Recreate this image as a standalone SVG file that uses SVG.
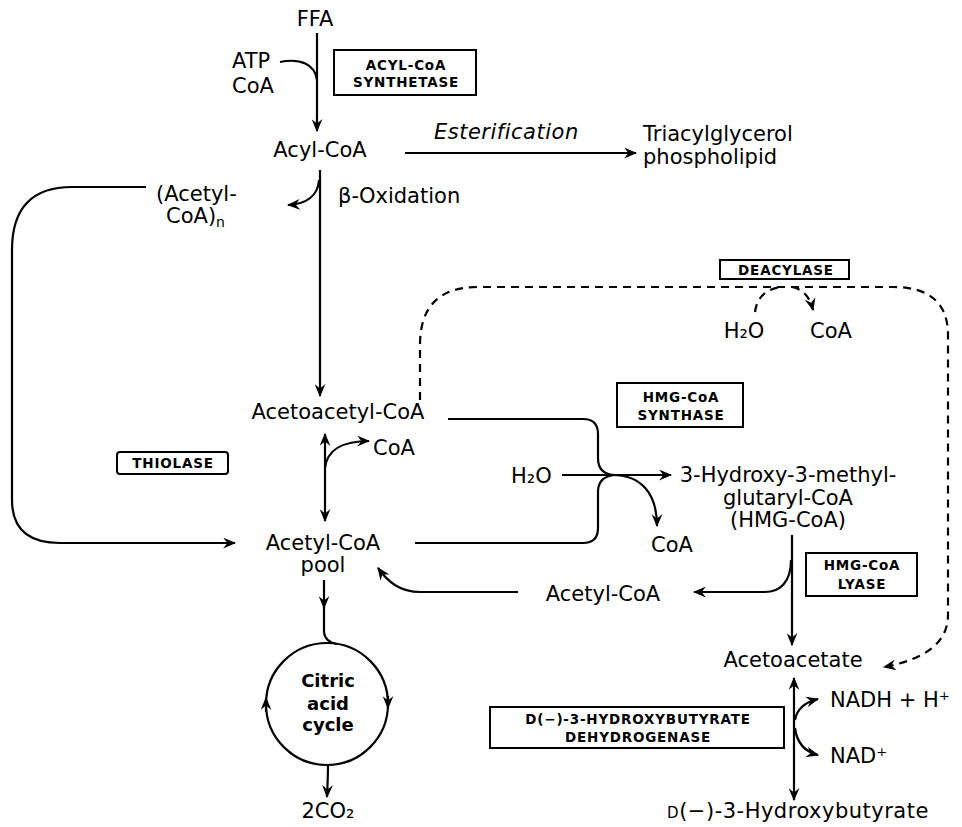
<svg xmlns="http://www.w3.org/2000/svg" width="962" height="827" viewBox="0 0 962 827">
<defs>
<style>
text{font-family:"DejaVu Sans","Liberation Sans",sans-serif;fill:#000}
.lb{font-size:21px}
.bx{font-size:13.5px;font-weight:bold;letter-spacing:0.8px}
.box{fill:none;stroke:#000;stroke-width:2}
.cn{fill:none;stroke:#000;stroke-width:2.2}
.dash{stroke-dasharray:8 6}
.bold{font-size:18px;font-weight:bold}
</style>
<marker id="ah" viewBox="0 0 12 10" refX="11" refY="5" markerWidth="13" markerHeight="11" markerUnits="userSpaceOnUse" orient="auto">
<path d="M0,0 L12,5 L0,10 L4,5 z" fill="#000"/>
</marker>
</defs>
<rect width="962" height="827" fill="#fff"/>

<g id="connectors">
<path class="cn" d="M317,33 L317,131" marker-end="url(#ah)"/>
<path class="cn" d="M280,62 C300,58 315,64 317,80"/>
<path class="cn" d="M405,153 L636,153" marker-end="url(#ah)"/>
<path class="cn" d="M320,170 L320,396" marker-end="url(#ah)"/>
<path class="cn" d="M319,180 C318,196 306,204 288,205" marker-end="url(#ah)"/>
<path class="cn" d="M146,187 L72,187 Q12,187 12,250 L12,500 Q12,543 60,543 L235,543" marker-end="url(#ah)"/>
<path class="cn" d="M325,470 L325,434" marker-end="url(#ah)"/>
<path class="cn" d="M325,470 L325,521" marker-end="url(#ah)"/>
<path class="cn" d="M325,468 C327,450 343,441 369,441" marker-end="url(#ah)"/>
<path class="cn" d="M448,419 L583,419 Q598,419 598,434 L598,458 Q598,474 614,475"/>
<path class="cn" d="M415,543 L583,543 Q598,543 598,528 L598,492 Q598,477 614,475"/>
<path class="cn" d="M562,475 L671,475" marker-end="url(#ah)"/>
<path class="cn" d="M612,475 C640,475 657,492 657,526" marker-end="url(#ah)"/>
<path class="cn" d="M792,535 L792,645" marker-end="url(#ah)"/>
<path class="cn" d="M791,560 C791,582 780,592 765,592 L694,592" marker-end="url(#ah)"/>
<path class="cn" d="M518,592 L420,592 C400,592 388,582 378,568" marker-end="url(#ah)"/>
<path class="cn" d="M324,580 L324,608" marker-end="url(#ah)"/>
<path class="cn" d="M324,606 L324,632 Q325,642 337,644"/>
<path class="cn" d="M266,712 L266,698" marker-end="url(#ah)"/>
<path class="cn" d="M388,696 L388,708" marker-end="url(#ah)"/>
<path class="cn" d="M328,765 Q328,775 327,797" marker-end="url(#ah)"/>
<path class="cn" d="M794,720 L794,678" marker-end="url(#ah)"/>
<path class="cn" d="M794,720 L794,800" marker-end="url(#ah)"/>
<path class="cn" d="M795,720 C797,708 806,702 818,699" marker-end="url(#ah)"/>
<path class="cn" d="M795,728 C797,744 806,752 818,755" marker-end="url(#ah)"/>
<path class="cn dash" d="M420,400 L420,345 Q420,287 478,287 L893,287 Q948,287 948,335 L948,615 Q948,655 884,667" marker-end="url(#ah)"/>
<path class="cn dash" d="M755,312 Q758,290 781,287"/>
<path class="cn dash" d="M792,287 Q808,290 813,310" marker-end="url(#ah)"/>
</g>

<g id="ffa"><text class="lb" x="315" y="26" text-anchor="middle">FFA</text></g>
<g id="atp-coa"><text class="lb" x="232" y="68">ATP</text><text class="lb" x="232" y="93">CoA</text></g>
<g id="acyl-coa-synthetase"><rect class="box" x="334" y="50" width="142" height="45"/>
<text class="bx" x="406" y="70" text-anchor="middle">ACYL-CoA</text>
<text class="bx" x="406" y="87" text-anchor="middle">SYNTHETASE</text></g>
<g id="acyl-coa"><text class="lb" x="320" y="157" text-anchor="middle">Acyl-CoA</text></g>
<g id="esterification"><text class="lb" x="434" y="139" font-style="italic" letter-spacing="0.5">Esterification</text></g>
<g id="triacylglycerol"><text class="lb" x="643" y="141">Triacylglycerol</text><text class="lb" x="643" y="164">phospholipid</text></g>
<g id="acetyl-coa-n"><text class="lb" x="156" y="201">(Acetyl-</text><text class="lb" x="166" y="223">CoA)<tspan font-size="14" dy="4">n</tspan></text></g>
<g id="beta-oxidation"><text class="lb" x="338" y="203">β-Oxidation</text></g>
<g id="deacylase"><rect class="box" x="720" y="260" width="129" height="19"/>
<text class="bx" x="786" y="275" text-anchor="middle">DEACYLASE</text></g>
<g id="deacylase-h2o"><text class="lb" x="744" y="338" text-anchor="middle">H₂O</text></g>
<g id="deacylase-coa"><text class="lb" x="831" y="338" text-anchor="middle">CoA</text></g>
<g id="acetoacetyl-coa"><text class="lb" x="338" y="419" text-anchor="middle">Acetoacetyl-CoA</text></g>
<g id="hmg-coa-synthase"><rect class="box" x="617" y="383" width="126" height="44"/>
<text class="bx" x="681" y="402" text-anchor="middle">HMG-CoA</text>
<text class="bx" x="681" y="420" text-anchor="middle">SYNTHASE</text></g>
<g id="thiolase"><rect class="box" x="117" y="452" width="111" height="22" rx="3"/>
<text class="bx" x="173" y="468" text-anchor="middle">THIOLASE</text></g>
<g id="coa-thiolase"><text class="lb" x="373" y="455">CoA</text></g>
<g id="h2o"><text class="lb" x="511" y="483">H₂O</text></g>
<g id="hmg-coa"><text class="lb" x="788" y="482" text-anchor="middle">3-Hydroxy-3-methyl-</text>
<text class="lb" x="788" y="505" text-anchor="middle">glutaryl-CoA</text>
<text class="lb" x="788" y="527" text-anchor="middle">(HMG-CoA)</text></g>
<g id="coa-synthase"><text class="lb" x="672" y="552" text-anchor="middle">CoA</text></g>
<g id="acetyl-coa-pool"><text class="lb" x="323" y="550" text-anchor="middle">Acetyl-CoA</text>
<text class="lb" x="323" y="572" text-anchor="middle">pool</text></g>
<g id="hmg-coa-lyase"><rect class="box" x="806" y="553" width="111" height="43"/>
<text class="bx" x="862" y="570" text-anchor="middle">HMG-CoA</text>
<text class="bx" x="862" y="589" text-anchor="middle">LYASE</text></g>
<g id="acetyl-coa"><text class="lb" x="603" y="601" text-anchor="middle">Acetyl-CoA</text></g>
<g id="citric-acid-cycle"><circle cx="327" cy="704" r="61" fill="none" stroke="#000" stroke-width="2.2"/>
<text class="bold" x="328" y="687" text-anchor="middle">Citric</text>
<text class="bold" x="328" y="710" text-anchor="middle">acid</text>
<text class="bold" x="328" y="731" text-anchor="middle">cycle</text></g>
<g id="co2"><text class="lb" x="328" y="818" text-anchor="middle">2CO₂</text></g>
<g id="acetoacetate"><text class="lb" x="793" y="667" text-anchor="middle">Acetoacetate</text></g>
<g id="nadh"><text class="lb" x="830" y="707">NADH + H⁺</text></g>
<g id="nad"><text class="lb" x="830" y="763">NAD⁺</text></g>
<g id="hydroxybutyrate-dehydrogenase"><rect class="box" x="490" y="707" width="294" height="41"/>
<text class="bx" x="638" y="724" text-anchor="middle">D(−)-3-HYDROXYBUTYRATE</text>
<text class="bx" x="638" y="742" text-anchor="middle">DEHYDROGENASE</text></g>
<g id="hydroxybutyrate"><text class="lb" x="798" y="818" text-anchor="middle" letter-spacing="0.5"><tspan font-size="15">D</tspan>(−)-3-Hydroxybutyrate</text></g>
</svg>
